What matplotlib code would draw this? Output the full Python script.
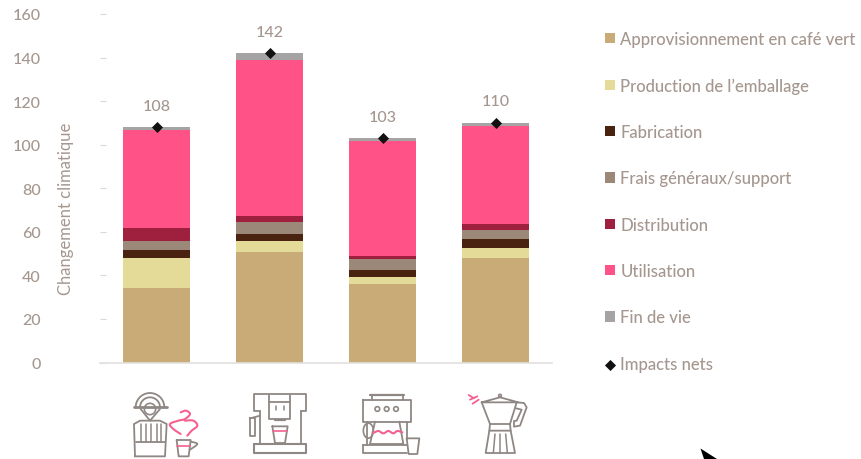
import numpy as np
import matplotlib
matplotlib.use('Agg')
import matplotlib.pyplot as plt
from matplotlib.patches import Circle, Arc, Ellipse, Polygon

plt.rcParams['font.family'] = ['Lato', 'DejaVu Sans']
plt.rcParams['font.weight'] = 'medium'

machines = ['Capsule', 'Super-automatique', 'Filtre', 'Moka']
net_impacts = [108, 142, 103, 110]
coffee = [34.4, 50.9, 36.1, 48.2]
packaging = [13.8, 4.8, 3.1, 4.3]
manufacturing = [3.4, 3.5, 3.2, 4.0]
overheads = [4.3, 5.2, 4.9, 4.3]
distribution = [5.8, 3.0, 1.8, 3.0]
use_phase = [44.9, 71.6, 52.7, 44.9]
end_of_life = [1.4, 3.0, 1.2, 1.3]

series = [
    ('Approvisionnement en café vert', coffee, '#C9AB78'),
    ('Production de l’emballage', packaging, '#E5DB98'),
    ('Fabrication', manufacturing, '#4A2310'),
    ('Frais généraux/support', overheads, '#9C8878'),
    ('Distribution', distribution, '#9E1F3E'),
    ('Utilisation', use_phase, '#FF5388'),
    ('Fin de vie', end_of_life, '#A5A3A4'),
]

TEXT = '#A5978F'
LINE = '#8F8783'
PINK = '#F4608F'
W, H = 861, 460

fig = plt.figure(figsize=(W / 100, H / 100), dpi=100)
ax = fig.add_axes([100 / W, (H - 363.5) / H, 452 / W, 348.5 / H])

x = np.arange(len(machines))
bottom = np.zeros(len(machines))
handles = []
for name, values, color in series:
    bars = ax.bar(x, values, 0.59, bottom=bottom, color=color, label=name)
    handles.append(bars)
    bottom += np.array(values)

net = ax.scatter(x, net_impacts, marker='D', s=32, color='#111111', zorder=5,
                 clip_on=False, label='Impacts nets', linewidths=0)
handles.append(net)

for xi, v in zip(x, net_impacts):
    ax.annotate(str(v), (xi, v), xytext=(0, 15.5), textcoords='offset points',
                ha='center', va='center', color=TEXT, fontsize=11.5)

ax.set_xlim(-0.5, 3.5)
ax.set_ylim(0, 160)
ax.set_yticks(range(0, 161, 20))
ax.set_xticks([])
for side in ['top', 'right', 'left']:
    ax.spines[side].set_visible(False)
ax.spines['bottom'].set_color('#E3E0DE')
ax.spines['bottom'].set_linewidth(1.2)
ax.tick_params(axis='y', direction='in', length=4.5, width=0.8, color='#DCD8D5',
               labelcolor=TEXT, labelsize=11.5, pad=42.5)
ax.set_ylabel('Changement climatique', color=TEXT, fontsize=12)
ax.yaxis.set_label_coords(-26 / 452, 0.443)

ax.legend(handles, [s[0] for s in series] + ['Impacts nets'], loc='upper left',
          bbox_to_anchor=(505 / 452, 1.0 - 17 / 348.5), borderaxespad=0, borderpad=0,
          frameon=False, fontsize=12, labelcolor=TEXT, labelspacing=1.82,
          handlelength=0.58, handleheight=0.58, handletextpad=0.35, scatterpoints=1)

# overlay in pixel coordinates for the machine pictograms
ov = fig.add_axes([0, 0, 1, 1], facecolor='none')
ov.set_xlim(0, W)
ov.set_ylim(H, 0)
ov.axis('off')


def smooth(pts, n=12):
    pts = np.array([pts[0]] + list(pts) + [pts[-1]], dtype=float)
    out = []
    for i in range(1, len(pts) - 2):
        p0, p1, p2, p3 = pts[i - 1], pts[i], pts[i + 1], pts[i + 2]
        for t in np.linspace(0, 1, n):
            out.append(0.5 * (2 * p1 + (p2 - p0) * t + (2 * p0 - 5 * p1 + 4 * p2 - p3) * t ** 2
                              + (3 * p1 - p0 - 3 * p2 + p3) * t ** 3))
    return np.array(out)


class Icon:
    # coordinates are given at 3x, relative to the icon's origin
    def __init__(self, ox, oy):
        self.ox, self.oy = ox, oy

    def xy(self, pts):
        pts = np.array(pts, dtype=float)
        return self.ox + pts[:, 0] / 3, self.oy + pts[:, 1] / 3

    def line(self, pts, color=LINE, lw=1.3, curve=False):
        if curve:
            pts = smooth(pts)
        xs, ys = self.xy(pts)
        ov.plot(xs, ys, color=color, lw=lw, solid_capstyle='round', solid_joinstyle='round')

    def circle(self, c, r, lw=1.2):
        cx, cy = self.ox + c[0] / 3, self.oy + c[1] / 3
        ov.add_patch(Circle((cx, cy), r / 3, fill=False, ec=LINE, lw=lw))

    def arc(self, c, r, a1, a2, lw=1.3):
        cx, cy = self.ox + c[0] / 3, self.oy + c[1] / 3
        ov.add_patch(Arc((cx, cy), 2 * r / 3, 2 * r / 3, theta1=a1, theta2=a2, ec=LINE, lw=lw))


# capsule machine and cup
ic = Icon(110, 380)
ic.arc((120, 85), 43, 180, 360)
ic.arc((120, 85), 30, 180, 360)
ic.circle((120, 90), 17)
ic.line([(72, 85), (170, 85)], lw=2)
ic.line([(92, 90), (120, 125), (150, 90)])
ic.line([(75, 232), (72, 135), (90, 125), (150, 125), (170, 135), (165, 232), (75, 232)])
for vx in [92, 108, 124, 140, 153]:
    ic.line([(vx, 135), (vx, 190)], lw=1.1)
ic.line([(78, 190), (165, 190)])
ic.line([(200, 183), (242, 183), (236, 232), (206, 232), (200, 183)])
ic.line([(242, 188), (262, 195), (240, 212)], curve=True)
ic.line([(202, 200), (240, 200)], color=PINK, lw=1.2)
ic.line([(212, 100), (228, 95), (240, 105), (225, 120), (205, 125), (180, 135), (190, 150), (212, 165)],
        color=PINK, lw=1.5, curve=True)
ic.line([(225, 125), (250, 125), (262, 140), (245, 155), (232, 170)], color=PINK, lw=1.5, curve=True)

# automatic machine
ic = Icon(110, 380)
ic.line([(450, 95), (432, 95), (432, 45), (588, 45), (588, 95), (572, 95)])
ic.line([(450, 95), (450, 195)])
ic.line([(572, 95), (572, 195)])
ic.line([(432, 195), (588, 195), (588, 222), (432, 222), (432, 195)], lw=1.5)
ic.line([(478, 48), (478, 120), (540, 120), (540, 48)])
ic.line([(478, 68), (540, 68)])
ic.line([(497, 80), (497, 92)], lw=1.1)
ic.line([(522, 80), (522, 92)], lw=1.1)
ic.line([(495, 122), (525, 122)], lw=1.6)
ic.line([(487, 142), (533, 142), (525, 192), (495, 192), (487, 142)])
ic.line([(489, 157), (531, 157)], color=PINK, lw=1.2)
ic.line([(420, 118), (434, 118), (434, 170), (420, 170), (420, 118)])
ic.line([(428, 116), (450, 110)])

# filter machine
ic = Icon(340, 380)
ic.line([(90, 48), (192, 48)], lw=1.6)
ic.line([(95, 48), (95, 62)])
ic.line([(188, 48), (188, 62)])
ic.line([(70, 64), (212, 64), (212, 128), (70, 128), (70, 64)])
for cx in [112, 140, 168]:
    ic.circle((cx, 90), 7)
ic.line([(80, 128), (80, 197)])
ic.line([(200, 128), (200, 178)])
ic.line([(70, 198), (200, 198)])
ic.line([(70, 198), (70, 222), (200, 222)])
ic.line([(105, 128), (90, 195), (190, 195), (178, 128)])
ov.add_patch(Ellipse((340 + 85 / 3, 380 + 155 / 3), 10, 15, fill=False, ec=LINE, lw=1.2))
ic.line([(100, 162), (115, 156), (130, 163), (145, 156), (160, 163), (172, 156), (187, 160)],
        color=PINK, lw=1.5, curve=True)
ic.line([(200, 178), (238, 178), (232, 225), (206, 225), (200, 178)])

# moka pot
ic = Icon(340, 380)
ic.line([(425, 70), (480, 55), (535, 70), (425, 70)])
ic.circle((480, 50), 4)
ic.line([(425, 70), (450, 135), (510, 135), (530, 70)])
ic.line([(450, 135), (448, 155), (512, 155), (510, 135)])
ic.line([(448, 155), (437, 222), (525, 222), (512, 155)])
ic.line([(465, 165), (460, 222)], lw=1.1)
ic.line([(480, 165), (480, 222)], lw=1.1)
ic.line([(497, 165), (502, 222)], lw=1.1)
ic.line([(530, 70), (552, 72), (560, 85), (540, 140), (522, 143), (522, 126), (530, 125), (545, 92), (528, 88)])
ic.line([(386, 48), (402, 58)], color=PINK, lw=1.3)
ic.line([(390, 62), (412, 52)], color=PINK, lw=1.3)
ic.line([(398, 74), (416, 62)], color=PINK, lw=1.3)

# pointer arrow at the lower edge
ov.add_patch(Polygon([(700.5, 449.5), (717, 460), (704, 460)], closed=True, fc='black', ec='none'))

fig.savefig('out.png', dpi=100)
